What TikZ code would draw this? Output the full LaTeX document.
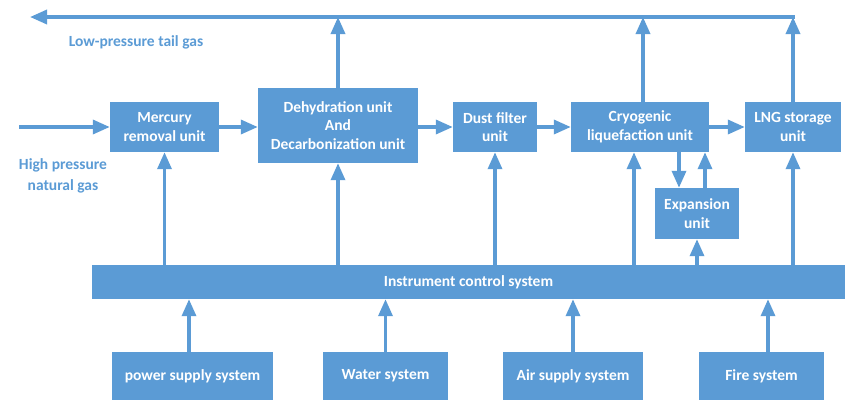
\documentclass[tikz,border=0pt]{standalone}
\usepackage{fontspec}
\setmainfont{Carlito}[BoldFont={Carlito Bold}]
\usetikzlibrary{arrows.meta}
\definecolor{unitblue}{HTML}{5B9BD5}
\tikzset{
  UnitStyle/.style = { rectangle, fill = unitblue, text = white,
                       inner sep = 0pt, align = center,
                       font = \bfseries\fontsize{15.5}{18.5}\selectfont },
  FlowStyle/.style = { draw = unitblue, line width = 3.4pt,
                       -{Triangle[length=17pt,width=14pt]} },
  LabelStyle/.style = { text = unitblue, align = center,
                        font = \bfseries\fontsize{15.5}{21}\selectfont }
}

\begin{document}
\begin{tikzpicture}[x=1pt,y=-1pt]
  \useasboundingbox (0,0) rectangle (845,400);
  % process units
  \node[UnitStyle, minimum width=109pt, minimum height=50pt](mercury) at (164.5,127) {Mercury\\removal unit};
  \node[UnitStyle, minimum width=160pt, minimum height=75pt](dehydration) at (338,125.5) {Dehydration unit\\And\\Decarbonization unit};
  \node[UnitStyle, minimum width=84pt, minimum height=50pt](dustfilter) at (495,127) {Dust filter\\unit};
  \node[UnitStyle, minimum width=138pt, minimum height=50pt](cryogenic) at (640,127) {Cryogenic\\liquefaction unit};
  \node[UnitStyle, minimum width=96pt, minimum height=50pt](lngstorage) at (793,127) {LNG storage\\unit};
  \node[UnitStyle, minimum width=84pt, minimum height=51pt](expansion) at (697,213.5) {Expansion\\unit};
  % control bar and supply systems
  \node[UnitStyle, minimum width=753pt, minimum height=34pt](control) at (468.5,282) {Instrument control system};
  \node[UnitStyle, minimum width=161pt, minimum height=48pt](power) at (192.5,376) {power supply system};
  \node[UnitStyle, minimum width=125pt, minimum height=48pt](water) at (385.5,376) {Water system};
  \node[UnitStyle, minimum width=140pt, minimum height=48pt](air) at (573,376) {Air supply system};
  \node[UnitStyle, minimum width=125pt, minimum height=48pt](fire) at (761.5,376) {Fire system};
  % labels
  \node[LabelStyle](tailgas) at (136,42) {Low-pressure tail gas};
  \node[LabelStyle](natgas) at (63,176) {High pressure\\natural gas};
  \coordinate (gasin) at (19,127);
  \coordinate (tailR) at (793,17);
  \coordinate (tailL) at (30,17);

  % main gas flow
  \draw[FlowStyle] (gasin) -- (mercury.west);
  \draw[FlowStyle] (mercury) -- (dehydration.west |- mercury);
  \draw[FlowStyle] (dehydration.east |- dustfilter) -- (dustfilter.west);
  \draw[FlowStyle] (dustfilter) -- (cryogenic.west);
  \draw[FlowStyle] (cryogenic) -- (lngstorage.west);
  \draw[FlowStyle] ([xshift=-18pt]cryogenic.south -| expansion) -- ([xshift=-18pt]expansion.north);
  \draw[FlowStyle] ([xshift=8pt]expansion.north) -- ([xshift=8pt]cryogenic.south -| expansion);

  % tail gas
  \draw[FlowStyle] ([xshift=1.7pt]tailR) -- (tailL);
  \draw[FlowStyle] (dehydration.north) -- (dehydration.north |- tailR);
  \draw[FlowStyle] ([xshift=3pt]cryogenic.north) -- ([xshift=3pt]cryogenic.north |- tailR);
  \draw[FlowStyle] (lngstorage.north) -- (tailR);

  % control signals
  \draw[FlowStyle] (mercury |- control.north) -- (mercury.south);
  \draw[FlowStyle] (dehydration |- control.north) -- (dehydration.south);
  \draw[FlowStyle] (dustfilter |- control.north) -- (dustfilter.south);
  \draw[FlowStyle] ([xshift=-6pt]cryogenic |- control.north) -- ([xshift=-6pt]cryogenic.south);
  \draw[FlowStyle] (expansion |- control.north) -- (expansion.south);
  \draw[FlowStyle] (lngstorage |- control.north) -- (lngstorage.south);

  % supplies
  \draw[FlowStyle] ([xshift=-3.5pt]power.north) -- ([xshift=-3.5pt]power.north |- control.south);
  \draw[FlowStyle] (water.north) -- (water.north |- control.south);
  \draw[FlowStyle] (air.north) -- (air.north |- control.south);
  \draw[FlowStyle] ([xshift=6.5pt]fire.north) -- ([xshift=6.5pt]fire.north |- control.south);
\end{tikzpicture}
\end{document}
